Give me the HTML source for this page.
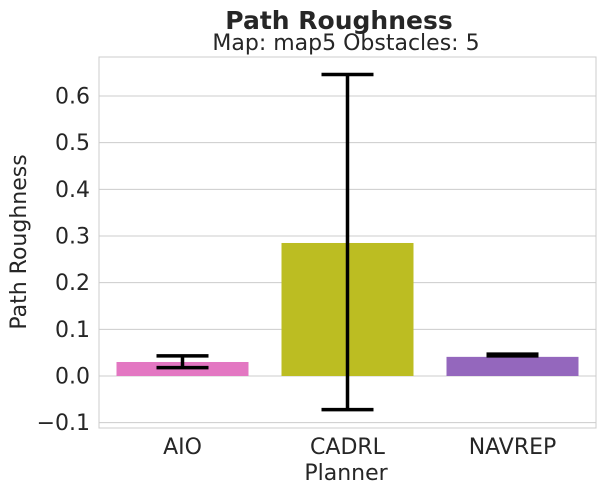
<!DOCTYPE html>
<html><head><meta charset="utf-8"><style>
body{margin:0;background:#fff;font-family:"Liberation Sans","DejaVu Sans",sans-serif;}
svg text{font-family:"DejaVu Sans","Liberation Sans",sans-serif;fill:#262626;}
</style></head><body>
<svg id="chart" width="605" height="492">
<text x="339" y="29" text-anchor="middle" style="font-size:25px;font-weight:bold">Path Roughness</text>
<text x="346" y="50" text-anchor="middle" style="font-size:22px">Map: map5 Obstacles: 5</text>
<g id="grid"></g><g id="bars"></g><g id="errs"></g><g id="ticks"></g>
<rect x="99" y="57" width="497" height="371" fill="none" stroke="#cccccc" stroke-width="1"/>
<text x="346" y="480" text-anchor="middle" style="font-size:22px">Planner</text>
<text transform="translate(26,242) rotate(-90)" text-anchor="middle" style="font-size:22px">Path Roughness</text>
</svg>
<script>
const categories=["AIO","CADRL","NAVREP"];
const values=[0.030,0.285,0.041];
const errLow=[0.018,-0.072,0.043];
const errHigh=[0.043,0.646,0.047];
const colors=["#e377c2","#bcbd22","#9467bd"];
const yTicks=[-0.1,0,0.1,0.2,0.3,0.4,0.5,0.6];
const yTickLabels=["−0.1","0.0","0.1","0.2","0.3","0.4","0.5","0.6"];
const NS="http://www.w3.org/2000/svg";
const y=v=>376-v*466.7;
const band=165, x0=99+(497-3*band)/2;
const xc=i=>x0+band*(i+0.5);
function mk(tag,attrs,parent){const e=document.createElementNS(NS,tag);for(const k in attrs)e.setAttribute(k,attrs[k]);document.getElementById(parent).appendChild(e);return e;}
yTicks.forEach((t,i)=>{
const g=mk("line",{x1:99,x2:596,y1:y(t),y2:y(t),stroke:"#cccccc","stroke-width":1},"grid");


const l=mk("text",{x:90,y:y(t)+7.5,"text-anchor":"end",style:"font-size:22px"},"ticks");
l.textContent=yTickLabels[i];


});
categories.forEach((c,i)=>{
const w=band*0.8;
const top=Math.min(y(values[i]),y(0)),h=Math.abs(y(values[i])-y(0));
const b=mk("rect",{x:xc(i)-w/2,y:top,width:w,height:h,fill:colors[i]},"bars");


const e=mk("path",{d:`M${xc(i)},${y(errLow[i])}V${y(errHigh[i])}M${xc(i)-26},${y(errLow[i])}h52M${xc(i)-26},${y(errHigh[i])}h52`,stroke:"#000","stroke-width":3.5,fill:"none"},"errs");


const l=mk("text",{x:xc(i),y:454,"text-anchor":"middle",style:"font-size:22px"},"ticks");
l.textContent=c;


});
</script>
</body></html>
